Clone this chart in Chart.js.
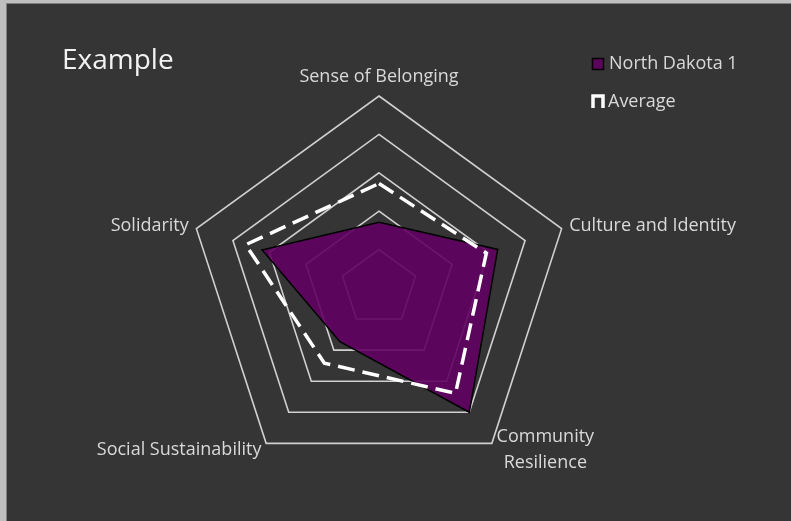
<!DOCTYPE html>
<html>
<head>
<meta charset="utf-8">
<title>Example</title>
<script src="https://cdn.jsdelivr.net/npm/chart.js@4.4.1/dist/chart.umd.min.js"></script>
<style>
  html, body { margin: 0; padding: 0; background: #bfbfbf; }
  canvas { display: block; }
</style>
</head>
<body>
<canvas id="radar" width="791" height="521"></canvas>
<script>
// categories + values (scale 0..5)
const categories = ["Sense of Belonging", "Culture and Identity", ["Community", "Resilience"], "Social Sustainability", "Solidarity"];
const northDakota = [1.71, 3.25, 4.0, 1.73, 3.2];
const average = [2.72, 2.94, 3.39, 2.42, 3.65];
const scaleMin = 0;
const scaleMax = 5;
const scaleStep = 1;

const textColor = "#d9d9d9";
const fontFamily = "'Open Sans', 'DejaVu Sans', sans-serif";

// dark panel with a thin border behind everything
const panel = {
  id: "panel",
  beforeDraw(chart) {
    const ctx = chart.ctx;
    ctx.save();
    ctx.fillStyle = "#353535";
    ctx.fillRect(6, 3, chart.width - 6, chart.height - 3);
    ctx.strokeStyle = "#808080";
    ctx.lineWidth = 1;
    ctx.strokeRect(6.5, 3.5, chart.width + 10, chart.height + 10);
    ctx.restore();
  }
};

// axis labels placed off the scale's own point positions (Excel-like alignment)
const axisLabels = {
  id: "axisLabels",
  afterDraw(chart) {
    const scale = chart.scales.r;
    const ctx = chart.ctx;
    const lineH = 26;
    ctx.save();
    ctx.font = "18px " + fontFamily;
    ctx.fillStyle = textColor;
    chart.data.labels.forEach((lab, i) => {
      const lines = Array.isArray(lab) ? lab : [lab];
      const p = scale.getPointPosition(i, scale.drawingArea + 8);
      const dx = p.x - scale.xCenter;
      const dy = p.y - scale.yCenter;
      const widest = Math.max(...lines.map(l => ctx.measureText(l).width));
      let left;
      if (Math.abs(dx) < 1) left = p.x - widest / 2;
      else if (dx > 0) left = p.x;
      else left = p.x - widest;
      let top;
      if (Math.abs(dx) < 1 && dy < 0) top = p.y - lines.length * lineH + 2;
      else top = p.y - lines.length * lineH / 2;
      ctx.textAlign = "center";
      ctx.textBaseline = "middle";
      lines.forEach((l, k) => {
        ctx.fillText(l, left + widest / 2, top + lineH * (k + 0.5));
      });
    });
    ctx.restore();
  }
};

// title top-left and a stacked legend top-right
const corners = {
  id: "corners",
  afterDraw(chart) {
    const ctx = chart.ctx;
    ctx.save();
    ctx.textBaseline = "middle";
    ctx.fillStyle = "#f2f2f2";
    ctx.font = "28px " + fontFamily;
    ctx.fillText("Example", 62, 61);

    ctx.font = "18px " + fontFamily;
    const ds = chart.data.datasets;

    // North Dakota 1
    ctx.fillStyle = ds[0].backgroundColor;
    ctx.fillRect(592.5, 58.5, 11, 11);
    ctx.strokeStyle = "#000";
    ctx.lineWidth = 1.5;
    ctx.strokeRect(592.5, 58.5, 11, 11);
    ctx.fillStyle = textColor;
    ctx.fillText(ds[0].label, 609, 64);

    // Average
    ctx.strokeStyle = ds[1].borderColor;
    ctx.lineWidth = 3.5;
    ctx.beginPath();
    ctx.moveTo(593, 108);
    ctx.lineTo(593, 96);
    ctx.lineTo(603, 96);
    ctx.lineTo(603, 108);
    ctx.stroke();
    ctx.fillText(ds[1].label, 608, 102);
    ctx.restore();
  }
};

new Chart(document.getElementById("radar"), {
  type: "radar",
  data: {
    labels: categories,
    datasets: [
      {
        label: "North Dakota 1",
        data: northDakota,
        backgroundColor: "rgba(96, 0, 96, 0.9)",
        borderColor: "#000000",
        borderWidth: 1.5,
        pointRadius: 0,
        fill: true,
        order: 1
      },
      {
        label: "Average",
        data: average,
        backgroundColor: "transparent",
        borderColor: "#ffffff",
        borderWidth: 3.5,
        borderDash: [17, 8],
        pointRadius: 0,
        fill: false,
        order: 0
      }
    ]
  },
  plugins: [panel, axisLabels, corners],
  options: {
    responsive: false,
    animation: false,
    layout: { padding: { top: 96, bottom: 41, left: 0, right: 33 } },
    plugins: {
      legend: { display: false },
      title: { display: false },
      tooltip: { enabled: false }
    },
    scales: {
      r: {
        min: scaleMin,
        max: scaleMax,
        ticks: { stepSize: scaleStep, display: false },
        angleLines: { display: false },
        grid: { color: "#d0d0d0", lineWidth: 1.6 },
        pointLabels: { display: false }
      }
    }
  }
});
</script>
</body>
</html>
